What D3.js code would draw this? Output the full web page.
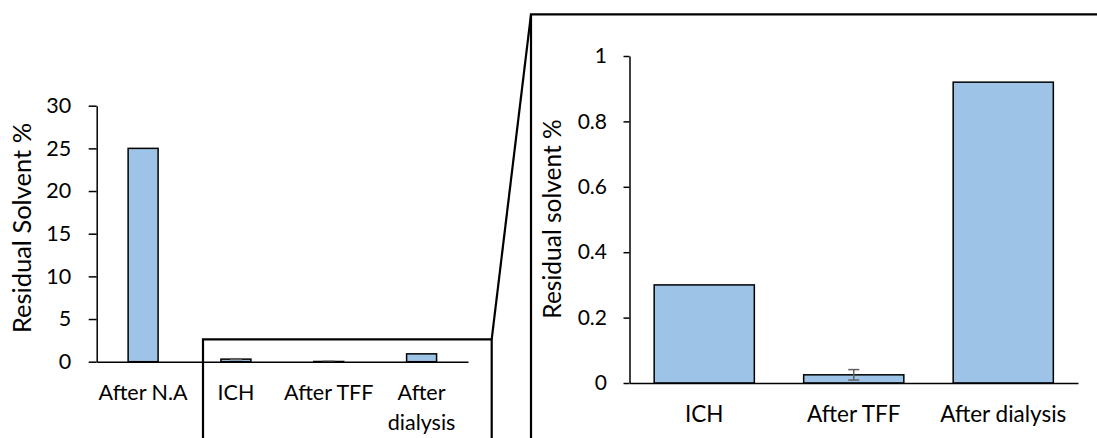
<!DOCTYPE html>
<html>
<head>
<meta charset="utf-8">
<script src="https://cdn.jsdelivr.net/npm/d3@7"></script>
<style>
  body { margin: 0; background: #fff; }
  svg { display: block; font-family: Lato, "Open Sans", sans-serif; }
  .axis path, .axis line { stroke: #000; stroke-width: 1.5; }
  .axis text { fill: #000; }
</style>
</head>
<body>
<svg width="1097" height="438"></svg>
<script>
// overview chart
const leftCats = ['After N.A', 'ICH', 'After TFF', 'After dialysis'];
const leftVals = [25, 0.3, 0.025, 0.92];
const leftErr = [0, 0.05, 0.016, 0];
const leftTicks = [0, 5, 10, 15, 20, 25, 30];

// zoomed chart
const rightCats = ['ICH', 'After TFF', 'After dialysis'];
const rightVals = [0.3, 0.025, 0.92];
const rightErr = [0, 0.016, 0];
const rightTicks = [0, 0.2, 0.4, 0.6, 0.8, 1];

const svg = d3.select('svg');
const width = +svg.attr('width');
const height = +svg.attr('height');

const barFill = '#9dc3e6';
const errColor = '#5f5f5f';

// wrap long tick labels into lines that fit the band
const wrap = (text, w, lineH) => {
	text.each(function () {
		const t = d3.select(this);
		const words = t.text().split(/\s+/);
		const x = t.attr('x') || 0;
		const y = t.attr('y');
		t.text(null);
		let line = [];
		let ln = 0;
		let span = t.append('tspan').attr('x', x).attr('y', y);
		words.forEach(word => {
			line.push(word);
			span.text(line.join(' '));
			if (span.node().getComputedTextLength() > w && line.length > 1) {
				line.pop();
				span.text(line.join(' '));
				line = [word];
				ln++;
				span = t.append('tspan').attr('x', x).attr('y', +y + ln * lineH).text(word);
			}
		});
	});
};

const drawChart = opts => {
	const { cats, vals, errs, ticks, x0, x1, y0, y1, pad, tickLen, tickPad,
		fontSize, catSize, labelGap, title, titleX, titleY, titleSize, capW, wrapW } = opts;

	const xScale = d3.scaleBand()
		.domain(cats)
		.range([x0, x1])
		.paddingInner(pad)
		.paddingOuter(pad / 2);

	const yScale = d3.scaleLinear()
		.domain([0, d3.max(ticks)])
		.range([y0, y1]);

	const g = svg.append('g');

	g.selectAll('rect.bar').data(vals)
		.enter().append('rect')
			.attr('class', 'bar')
			.attr('x', (d, i) => xScale(cats[i]))
			.attr('y', d => yScale(d))
			.attr('width', xScale.bandwidth())
			.attr('height', d => yScale(0) - yScale(d))
			.attr('fill', barFill)
			.attr('stroke', '#000')
			.attr('stroke-width', 1.5);

	const eb = g.selectAll('g.err').data(vals.map((v, i) => ({ v, e: errs[i], c: cats[i] })).filter(d => d.e > 0))
		.enter().append('g')
			.attr('class', 'err')
			.attr('stroke', errColor)
			.attr('stroke-width', 1.5);
	const cx = d => xScale(d.c) + xScale.bandwidth() / 2;
	eb.append('line')
		.attr('x1', cx).attr('x2', cx)
		.attr('y1', d => yScale(d.v - d.e)).attr('y2', d => yScale(d.v + d.e));
	eb.append('line')
		.attr('x1', d => cx(d) - capW / 2).attr('x2', d => cx(d) + capW / 2)
		.attr('y1', d => yScale(d.v + d.e)).attr('y2', d => yScale(d.v + d.e));
	eb.append('line')
		.attr('x1', d => cx(d) - capW / 2).attr('x2', d => cx(d) + capW / 2)
		.attr('y1', d => yScale(d.v - d.e)).attr('y2', d => yScale(d.v - d.e));

	g.append('g')
		.attr('class', 'axis')
		.attr('transform', `translate(${x0}, 0)`)
		.call(d3.axisLeft(yScale).tickValues(ticks).tickSize(tickLen).tickSizeOuter(0)
			.tickPadding(tickPad).tickFormat(d3.format('')))
		.call(a => a.selectAll('text').style('font-size', fontSize + 'px'))
		.call(a => a.attr('font-family', null));

	const xAxis = g.append('g')
		.attr('class', 'axis')
		.attr('transform', `translate(0, ${y0})`)
		.call(d3.axisBottom(xScale).tickSize(0).tickSizeOuter(0))
		.call(a => a.attr('font-family', null));
	xAxis.selectAll('text')
		.style('font-size', catSize + 'px')
		.attr('dy', null)
		.attr('y', labelGap)
		.call(wrap, wrapW, 29.5);

	g.append('text')
		.attr('transform', `translate(${titleX}, ${titleY}) rotate(-90)`)
		.attr('text-anchor', 'middle')
		.style('font-size', titleSize + 'px')
		.text(title);
};

drawChart({
	cats: leftCats, vals: leftVals, errs: leftErr, ticks: leftTicks,
	x0: 96.7, x1: 468, y0: 361.7, y1: 105.7, pad: 0.677,
	tickLen: 8, tickPad: 17.5, fontSize: 21.5, catSize: 21.5, labelGap: 38.5,
	title: 'Residual Solvent %', titleX: 31, titleY: 228, titleSize: 25.5,
	capW: 12, wrapW: 100
});

drawChart({
	cats: rightCats, vals: rightVals, errs: rightErr, ticks: rightTicks,
	x0: 629.5, x1: 1078, y0: 383, y1: 56, pad: 0.33,
	tickLen: 6, tickPad: 16.5, fontSize: 21, catSize: 22.5, labelGap: 39,
	title: 'Residual solvent %', titleX: 561, titleY: 219, titleSize: 24.5,
	capW: 11, wrapW: 200
});

// zoom frames
const frame = svg.append('g')
	.attr('fill', 'none')
	.attr('stroke', '#000')
	.attr('stroke-width', 2.2);
frame.append('path').attr('d', `M203,${height + 2} V339.3 H491.7 V${height + 2}`);
frame.append('path').attr('d', 'M491.7,339.3 L531,14.3');
frame.append('path').attr('d', `M531,${height + 2} V14.3 H${width + 2}`);
</script>
</body>
</html>
